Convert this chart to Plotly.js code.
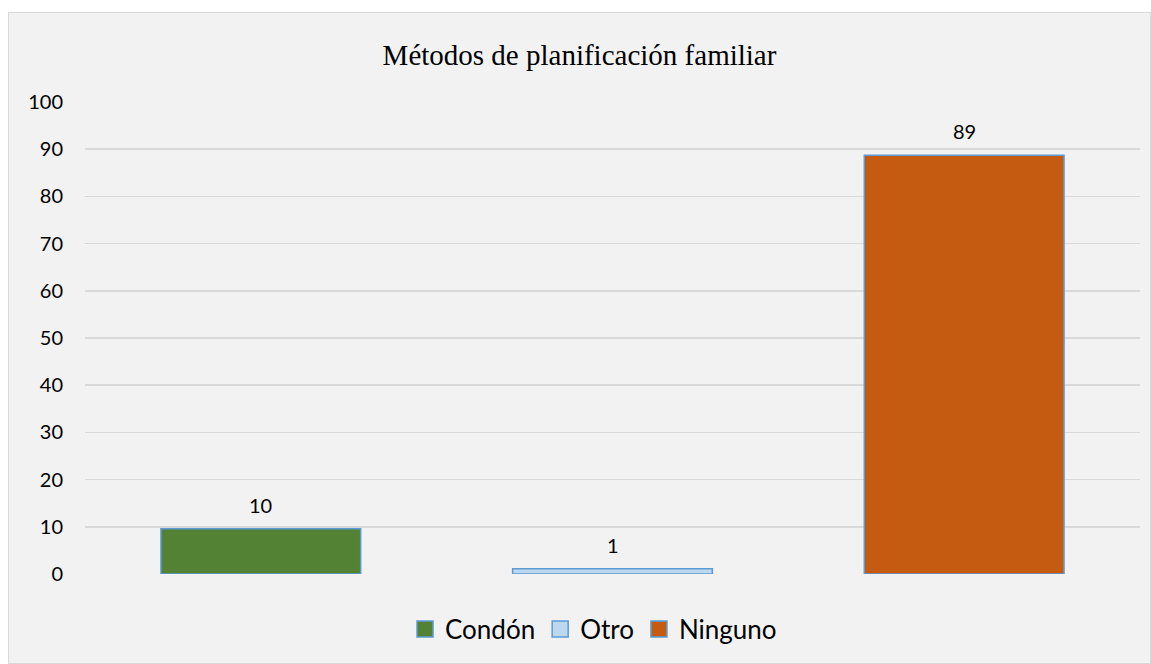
<!DOCTYPE html>
<html>
<head>
<meta charset="utf-8">
<script src="https://cdn.plot.ly/plotly-3.0.1.min.js"></script>
<style>
  html, body { margin: 0; padding: 0; background: #ffffff; }
  #frame {
    position: absolute; left: 8px; top: 12px;
    width: 1141px; height: 650px;
    background: #f2f2f2; border: 1px solid #d9d9d9;
  }
  #chartDiv { width: 1141px; height: 650px; }
</style>
</head>
<body>
<div id="frame"><div id="chartDiv"></div></div>
<script>
const seriesNames = ['Condón', 'Otro', 'Ninguno'];
const seriesValues = [9.6, 1.1, 88.7];
const seriesLabels = ['10', '1', '89'];
const seriesColors = ['#548235', '#bdd7ee', '#c55a11'];
const yTicks = [0, 10, 20, 30, 40, 50, 60, 70, 80, 90, 100];

const edgeColor = '#5b9bd5';
const tickFont = { family: 'Lato, "Open Sans", sans-serif', size: 20, color: '#000000' };

// bars (one trace per series, each on its own slot)
const bars = seriesNames.map(function (name, i) {
  return {
    type: 'bar',
    name: name,
    x: [name],
    y: [seriesValues[i]],
    marker: { color: seriesColors[i], line: { color: edgeColor, width: 1.5 } },
    showlegend: false,
    hoverinfo: 'skip'
  };
});

// legend entries with bigger square swatches
const legendItems = seriesNames.map(function (name, i) {
  return {
    type: 'scatter',
    mode: 'markers',
    name: name,
    x: [null],
    y: [null],
    marker: { symbol: 'square', size: 16, color: seriesColors[i], line: { color: edgeColor, width: 1.5 } },
    showlegend: true,
    hoverinfo: 'skip'
  };
});

const labels = seriesNames.map(function (name, i) {
  return {
    x: name, y: seriesValues[i], xref: 'x', yref: 'y',
    text: seriesLabels[i],
    showarrow: false,
    yanchor: 'middle',
    yshift: 24,
    font: tickFont
  };
});

const layout = {
  width: 1141,
  height: 650,
  paper_bgcolor: 'rgba(0,0,0,0)',
  plot_bgcolor: 'rgba(0,0,0,0)',
  margin: { l: 76, r: 10, t: 89, b: 87 },
  title: {
    text: 'Métodos de planificación familiar',
    font: { family: '"Liberation Serif", "Times New Roman", serif', size: 29, color: '#000000' },
    x: 0.5, xref: 'container',
    y: 0.935, yref: 'container', yanchor: 'middle'
  },
  barmode: 'overlay',
  bargap: 0.432,
  xaxis: {
    type: 'category',
    categoryarray: seriesNames,
    showticklabels: false, showgrid: false, zeroline: false, showline: false, ticks: ''
  },
  yaxis: {
    range: [0, 100],
    tickvals: yTicks,
    tickfont: tickFont,
    showgrid: true, gridcolor: '#d9d9d9', gridwidth: 1.5,
    zeroline: false, showline: false, ticks: '',
    ticklabelstandoff: 21
  },
  annotations: labels,
  showlegend: true,
  legend: {
    orientation: 'h',
    x: 0.482, xanchor: 'center',
    y: -0.117, yanchor: 'middle',
    font: { family: 'Lato, "Open Sans", sans-serif', size: 26, color: '#000000' },
    itemsizing: 'trace',
    traceorder: 'normal'
  }
};

Plotly.newPlot('chartDiv', bars.concat(legendItems), layout, { displayModeBar: false, staticPlot: true });
</script>
</body>
</html>
